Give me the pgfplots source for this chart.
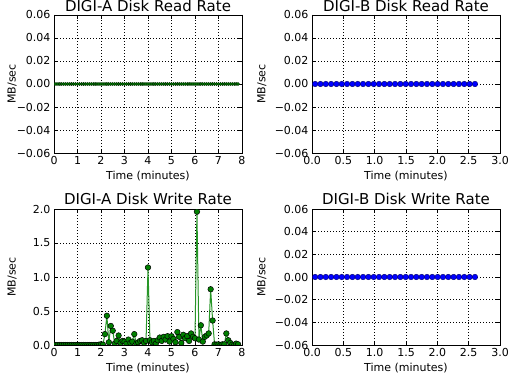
\documentclass[border=0pt]{standalone}
\usepackage{fontspec}
\setmainfont{DejaVu Sans}
\usepackage{pgfplots}
\usepackage{pgfplotstable}
\pgfplotsset{compat=1.18}
\definecolor{mgreen}{RGB}{0,128,0}
\definecolor{lgreen}{RGB}{40,150,40}
\definecolor{mblue}{RGB}{0,0,255}

\pgfplotstableread{
t r w
0.000 0 0
0.083 0 0
0.167 0 0
0.250 0 0
0.333 0 0
0.417 0 0
0.500 0 0
0.583 0 0
0.667 0 0
0.750 0 0
0.833 0 0
0.917 0 0
1.000 0 0
1.083 0 0
1.167 0 0
1.250 0 0
1.333 0 0
1.417 0 0
1.500 0 0
1.583 0 0
1.667 0 0
1.750 0 0
1.833 0 0
1.917 0 0.005
2.000 0 0.01
2.083 0 0.005
2.167 0 0.16
2.250 0 0.43
2.333 0 0.04
2.417 0 0.28
2.500 0 0.21
2.583 0 0.02
2.667 0 0.06
2.750 0 0.14
2.833 0 0.03
2.917 0 0.06
3.000 0 0.05
3.083 0 0.02
3.167 0 0.08
3.250 0 0.03
3.333 0 0.05
3.417 0 0.16
3.500 0 0.02
3.583 0 0.04
3.667 0 0.06
3.750 0 0.07
3.833 0 0.03
3.917 0 0.06
4.000 0 1.14
4.083 0 0.07
4.167 0 0.04
4.250 0 0.06
4.333 0 0.02
4.417 0 0.07
4.500 0 0.11
4.583 0 0.06
4.667 0 0.12
4.750 0 0.08
4.833 0 0.13
4.917 0 0.05
5.000 0 0.13
5.083 0 0.09
5.167 0 0.04
5.250 0 0.19
5.333 0 0.12
5.417 0 0.03
5.500 0 0.15
5.583 0 0.10
5.667 0 0.13
5.750 0 0.06
5.833 0 0.17
5.917 0 0.12
6.000 0 0.10
6.083 0 1.96
6.167 0 0.08
6.250 0 0.29
6.333 0 0.05
6.417 0 0.12
6.500 0 0.14
6.583 0 0.17
6.667 0 0.82
6.750 0 0.36
6.833 0 0.01
6.917 0 0.005
7.000 0 0.01
7.083 0 0
7.167 0 0.01
7.250 0 0.01
7.333 0 0.17
7.417 0 0.07
7.500 0 0.03
7.583 0 0.005
7.667 0 0
7.750 0 0.02
7.833 0 0.01
}\dataA

\pgfplotstableread{
t v
0.050 0
0.135 0
0.220 0
0.305 0
0.390 0
0.475 0
0.560 0
0.645 0
0.730 0
0.815 0
0.900 0
0.985 0
1.070 0
1.155 0
1.240 0
1.325 0
1.410 0
1.495 0
1.580 0
1.665 0
1.750 0
1.835 0
1.920 0
2.005 0
2.090 0
2.175 0
2.260 0
2.345 0
2.430 0
2.515 0
2.600 0
}\dataB

\pgfplotsset{
  every axis title shift=0pt,
  myax/.style={
    scale only axis,
    width=188bp,
    anchor=south west,
    axis line style={black, line width=0.8bp},
    tick style={black, line width=0.6bp},
    major tick length=4bp,
    tick align=inside,
    xtick pos=both, ytick pos=both,
    grid=major,
    major grid style={black, line width=0.5bp, dash pattern=on 1bp off 2bp},
    scaled y ticks=false, scaled x ticks=false,
    tick label style={font=\fontsize{11bp}{13bp}\selectfont},
    label style={font=\fontsize{11bp}{13bp}\selectfont},
    title style={font=\fontsize{15bp}{17bp}\selectfont, at={(axis description cs:0.5,1)}, anchor=base, yshift=3.5bp},
    xlabel={Time (minutes)},
    ylabel={MB/sec},
    xlabel style={at={(axis description cs:0.5,-0.195)}, anchor=base},
    clip marker paths=true,
  },
  readY/.style={
    ymin=-0.06, ymax=0.06,
    ytick={-0.06,-0.04,-0.02,0,0.02,0.04,0.06},
    yticklabels={−0.06,−0.04,−0.02,0.00,0.02,0.04,0.06},
  },
  axA/.style={
    xmin=0, xmax=8,
    xtick={0,1,2,3,4,5,6,7,8},
    xticklabels={0,1,2,3,4,5,6,7,8},
    ylabel style={at={(axis description cs:-0.223,0.5)}, anchor=center},
  },
  axB/.style={
    xmin=0, xmax=3,
    xtick={0,0.5,1,1.5,2,2.5,3},
    xticklabels={0.0,0.5,1.0,1.5,2.0,2.5,3.0},
    ylabel style={at={(axis description cs:-0.266,0.5)}, anchor=center},
  },
}

\begin{document}
\begin{tikzpicture}
\useasboundingbox (0,0) rectangle (510bp,376bp);

% top-left
\begin{axis}[myax, axA, readY, at={(54bp,223bp)}, height=138bp,
  title={DIGI-A Disk Read Rate}]
\addplot[color=lgreen, line width=1bp, mark=*, mark size=1.6bp,
  mark options={fill=mgreen, draw=black!70!mgreen, line width=0.4bp}] table[x=t,y=r] {\dataA};
\end{axis}

% top-right
\begin{axis}[myax, axB, readY, at={(312bp,223bp)}, height=138bp,
  title={DIGI-B Disk Read Rate}]
\addplot[color=mblue, line width=1bp, mark=*, mark size=2.8bp,
  mark options={fill=mblue, draw=black!60!mblue, line width=0.4bp}] table[x=t,y=v] {\dataB};
\end{axis}

% bottom-left
\begin{axis}[myax, axA, at={(54bp,31bp)}, height=136bp,
  ymin=0, ymax=2,
  ytick={0,0.5,1,1.5,2},
  yticklabels={0.0,0.5,1.0,1.5,2.0},
  title style={yshift=1.5bp},
  title={DIGI-A Disk Write Rate}]
\addplot[color=lgreen, line width=1bp, mark=*, mark size=2.8bp,
  mark options={fill=mgreen, draw=black, line width=0.5bp}] table[x=t,y=w] {\dataA};
\end{axis}

% bottom-right
\begin{axis}[myax, axB, readY, at={(312bp,31bp)}, height=136bp,
  title style={yshift=1.5bp},
  title={DIGI-B Disk Write Rate}]
\addplot[color=mblue, line width=1bp, mark=*, mark size=2.8bp,
  mark options={fill=mblue, draw=black!60!mblue, line width=0.4bp}] table[x=t,y=v] {\dataB};
\end{axis}
\end{tikzpicture}
\end{document}
